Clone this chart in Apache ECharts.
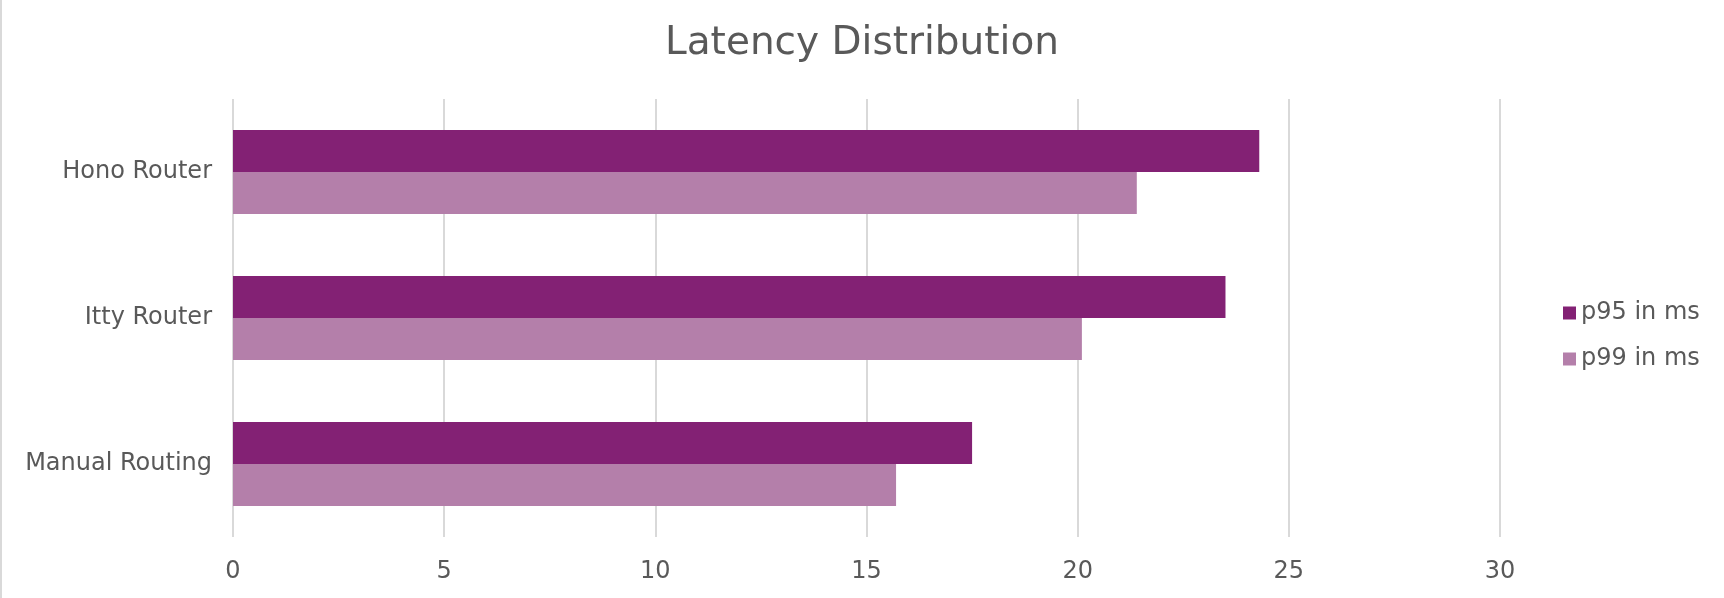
<!DOCTYPE html>
<html>
<head>
<meta charset="utf-8">
<title>Latency Distribution</title>
<script src="https://cdn.jsdelivr.net/npm/echarts@6/dist/echarts.min.js"></script>
<style>
  html, body { margin: 0; padding: 0; background: #fff; }
  #main { width: 1724px; height: 598px; }
</style>
</head>
<body>
<div id="main"></div>
<script>
// 数据
var categories = ["Hono Router", "Itty Router", "Manual Routing"];
var p95 = [24.3, 23.5, 17.5];
var p99 = [21.4, 20.1, 15.7];
var xTicks = [0, 5, 10, 15, 20, 25, 30];

var font = "'DejaVu Sans', sans-serif";
var myChart = echarts.init(document.getElementById("main"));

var option = {
  backgroundColor: "#fff",
  color: ["#832174", "#b47faa"],
  textStyle: {
    fontFamily: font
  },
  title: {
    text: "Latency Distribution",
    left: "center",
    top: 19,
    textStyle: {
      color: "#595959",
      fontSize: 39,
      fontWeight: "normal",
      fontFamily: font
    }
  },
  legend: {
    orient: "vertical",
    left: 1558,
    top: 295,
    icon: "rect",
    itemWidth: 13,
    itemHeight: 13,
    itemGap: 20,
    textStyle: {
      color: "#595959",
      fontSize: 24,
      lineHeight: 26,
      fontFamily: font
    }
  },
  // 左侧边框
  graphic: [{
    type: "rect",
    shape: { x: 0, y: 0, width: 2, height: 598 },
    style: { fill: "#d9d9d9" }
  }],
  grid: {
    left: 233,
    right: 224,
    top: 99,
    bottom: 61
  },
  xAxis: {
    type: "value",
    min: xTicks[0],
    max: xTicks[xTicks.length - 1],
    interval: xTicks[1] - xTicks[0],
    axisLine: { show: false },
    axisTick: { show: false },
    axisLabel: {
      color: "#595959",
      fontSize: 24,
      margin: 23,
      fontFamily: font
    },
    splitLine: {
      lineStyle: { color: "#d9d9d9", width: 2 }
    }
  },
  yAxis: {
    type: "category",
    inverse: true,
    data: categories,
    axisLine: { show: false },
    axisTick: { show: false },
    axisLabel: {
      color: "#595959",
      fontSize: 24,
      margin: 21,
      padding: [3, 0, 0, 0],
      fontFamily: font
    }
  },
  series: [
    {
      name: "p95 in ms",
      type: "bar",
      barGap: 0,
      barCategoryGap: "42.5%",
      data: p95
    },
    {
      name: "p99 in ms",
      type: "bar",
      barGap: 0,
      barCategoryGap: "42.5%",
      data: p99
    }
  ]
};

myChart.setOption(option);
window.addEventListener("resize", function () {
  myChart.resize();
});
</script>
</body>
</html>
